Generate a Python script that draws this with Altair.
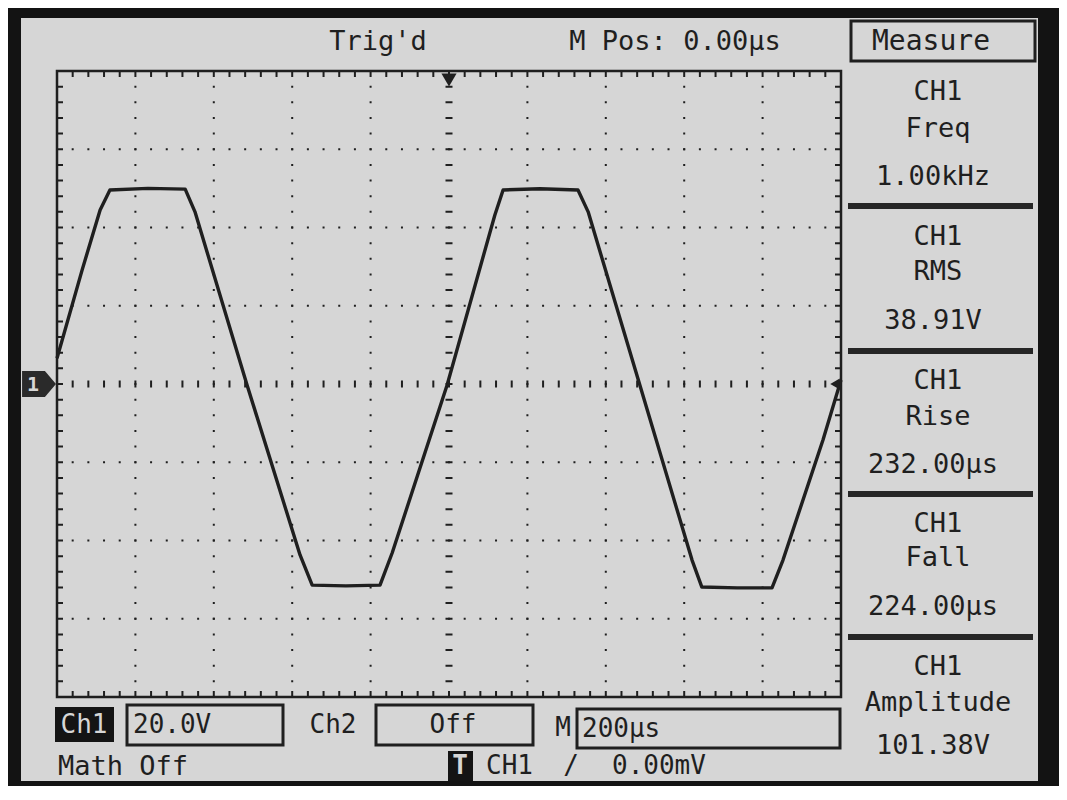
import altair as alt
import pandas as pd

# CH1 trace: time (µs, trigger at 0, 200 µs/div) and voltage (V, 20 V/div)
time_us = [-1000, -936, -890, -865, -768, -673, -648, -515, -380, -349, -263, -176,
           -145, -5, 117, 138, 232, 329, 355, 487, 620, 645, 735, 824, 852, 954, 1000]
volts = [6.6, 29.1, 44.5, 49.6, 50.0, 49.8, 44.0, -0.3, -43.7, -51.4, -51.6, -51.4,
         -43.2, -0.3, 43.2, 49.6, 49.9, 49.6, 44.0, -0.3, -45.0, -51.9, -52.1, -52.1,
         -45.0, -14.3, 1.0]

# graticule (major divisions, excluding the centre cross)
x_major = [-800, -600, -400, -200, 200, 400, 600, 800]
y_major = [-60, -40, -20, 20, 40, 60]

# screen texts
top_texts = ["Trig'd", "M Pos: 0.00µs"]
measure_title = "Measure"
panel_channel = ["CH1", "CH1", "CH1", "CH1", "CH1"]
panel_names = ["Freq", "RMS", "Rise", "Fall", "Amplitude"]
panel_values = ["1.00kHz", "38.91V", "232.00µs", "224.00µs", "101.38V"]
ch1_label, ch1_scale = "Ch1", "20.0V"
ch2_label, ch2_scale = "Ch2", "Off"
m_label, m_scale = "M", "200µs"
math_label = "Math Off"
trig_label, trig_src, trig_slope, trig_level = "T", "CH1", "/", "0.00mV"

# ---------------- layout ----------------
W, H = 784, 626          # plot (graticule) area
LEFT, TOP = 57, 71       # page position of the graticule
FONT = "DejaVu Sans Mono"
INK = "#1f1f1f"
SCREEN = "#d6d6d6"
BEZEL = "#131313"


def X(px):
    return px - LEFT


def Y(py):
    return py - TOP


one = alt.Data(values=[{"a": 1}])
xs = alt.Scale(domain=[-1000, 1000], nice=False, zero=False)
ys = alt.Scale(domain=[-80, 80], nice=False, zero=False)

layers = []


def rect(x1, x2, y1, y2, fill=None, stroke=None, sw=0):
    if fill is not None:
        m = alt.Chart(one).mark_rect(fill=fill, strokeWidth=0)
    else:
        m = alt.Chart(one).mark_rect(filled=False, stroke=stroke, strokeWidth=sw)
    return m.encode(x=alt.value(X(x1)), x2=alt.value(X(x2)),
                    y=alt.value(Y(y1)), y2=alt.value(Y(y2)))


def text(s, x, y, align="center", color=INK, size=26, weight="normal"):
    return alt.Chart(one).mark_text(
        text=s, align=align, baseline="middle", font=FONT, fontSize=size,
        color=color, fontWeight=weight
    ).encode(x=alt.value(X(x)), y=alt.value(Y(y)))


# LCD screen
layers.append(rect(21, 1038, 18, 781, fill=SCREEN))

# graticule dots
DASH_V = [2, 13.65]   # along vertical lines (626 / 40)
DASH_H = [2, 13.68]   # along horizontal lines (784 / 50)
layers.append(
    alt.Chart(pd.DataFrame({"t": x_major})).mark_rule(
        color=INK, strokeWidth=2, strokeDash=DASH_V, strokeDashOffset=1
    ).encode(x=alt.X("t:Q", scale=xs, axis=None))
)
layers.append(
    alt.Chart(pd.DataFrame({"v": y_major})).mark_rule(
        color=INK, strokeWidth=2, strokeDash=DASH_H, strokeDashOffset=1
    ).encode(y=alt.Y("v:Q", scale=ys, axis=None))
)
# centre cross with small ticks
layers.append(
    alt.Chart(pd.DataFrame({"v": [0]})).mark_rule(
        color=INK, strokeWidth=7, strokeDash=DASH_H, strokeDashOffset=1
    ).encode(y=alt.Y("v:Q", scale=ys, axis=None))
)
layers.append(
    alt.Chart(pd.DataFrame({"t": [0]})).mark_rule(
        color=INK, strokeWidth=7, strokeDash=DASH_V, strokeDashOffset=1
    ).encode(x=alt.X("t:Q", scale=xs, axis=None))
)
# border ticks pointing inward
layers.append(alt.Chart(one).mark_rule(color=INK, strokeWidth=6, strokeDash=DASH_H,
                                       strokeDashOffset=1).encode(y=alt.value(3)))
layers.append(alt.Chart(one).mark_rule(color=INK, strokeWidth=6, strokeDash=DASH_H,
                                       strokeDashOffset=1).encode(y=alt.value(H - 3)))
layers.append(alt.Chart(one).mark_rule(color=INK, strokeWidth=6, strokeDash=DASH_V,
                                       strokeDashOffset=1).encode(x=alt.value(3)))
layers.append(alt.Chart(one).mark_rule(color=INK, strokeWidth=6, strokeDash=DASH_V,
                                       strokeDashOffset=1).encode(x=alt.value(W - 3)))
# border
layers.append(rect(LEFT, LEFT + W, TOP, TOP + H, stroke=INK, sw=2.5))

# CH1 trace
trace = pd.DataFrame({"t": time_us, "v": volts})
layers.append(
    alt.Chart(trace).mark_line(color=INK, strokeWidth=3.4, strokeJoin="round").encode(
        x=alt.X("t:Q", scale=xs, axis=None),
        y=alt.Y("v:Q", scale=ys, axis=None),
    )
)

# trigger position marker (top centre)
layers.append(
    alt.Chart(one).mark_point(shape="triangle-down", filled=True, size=230,
                              color=INK, opacity=1).encode(
        x=alt.X(datum=0, scale=xs, axis=None), y=alt.value(Y(80)))
)
# channel 1 ground marker (left)
layers.append(
    alt.Chart(one).mark_point(
        shape="M -1 -0.76 L 0.35 -0.76 L 1 0 L 0.35 0.76 L -1 0.76 Z",
        filled=True, size=1150, color="#2a2a2a", opacity=1
    ).encode(x=alt.value(X(39)), y=alt.Y(datum=0, scale=ys, axis=None))
)
layers.append(text("1", 33, 385, color=SCREEN, size=20, weight="bold"))
# trigger level marker (right)
layers.append(
    alt.Chart(one).mark_point(shape="triangle-left", filled=True, size=120,
                              color=INK, opacity=1).encode(
        x=alt.value(X(835)), y=alt.Y(datum=0, scale=ys, axis=None))
)

# top status line
layers.append(text(top_texts[0], 378, 42, size=27))
layers.append(text(top_texts[1], 675, 42, size=27))

# measure panel
layers.append(rect(851, 1035, 21, 61, stroke=INK, sw=3))
layers.append(text(measure_title, 931, 42, size=28))
for yb in [206, 351, 494, 637]:
    layers.append(rect(848, 1033, yb - 3, yb + 3, fill="#262626"))
row_y = [(92, 129, 177), (237, 272, 321), (381, 417, 465), (524, 558, 607), (667, 703, 746)]
for (y1, y2, y3), c, n, v in zip(row_y, panel_channel, panel_names, panel_values):
    layers.append(text(c, 938, y1, size=27))
    layers.append(text(n, 938, y2, size=27))
    layers.append(text(v, 933, y3, size=27))

# bottom status lines
layers.append(rect(55, 114, 707, 742, fill="#141414"))
layers.append(text(ch1_label, 84, 725, color=SCREEN))
layers.append(rect(127, 283, 705, 745, stroke=INK, sw=3))
layers.append(text(ch1_scale, 133, 725, align="left"))
layers.append(text(ch2_label, 333, 725))
layers.append(rect(376, 533, 705, 745, stroke=INK, sw=3))
layers.append(text(ch2_scale, 453, 725))
layers.append(text(m_label, 563, 728))
layers.append(rect(577, 840, 709, 748, stroke=INK, sw=3))
layers.append(text(m_scale, 582, 729, align="left"))
layers.append(text(math_label, 58, 767, align="left", size=27))
layers.append(rect(448, 473, 751, 781, fill="#141414"))
layers.append(text(trig_label, 460, 766, color=SCREEN, weight="bold"))
layers.append(text(trig_src, 486, 766, align="left"))
layers.append(text(trig_slope, 571, 766))
layers.append(text(trig_level, 612, 766, align="left"))

chart = alt.layer(*layers).properties(
    width=W,
    height=H,
    autosize=alt.AutoSizeParams(type="none"),
    padding={"left": 49, "top": 63, "right": 218, "bottom": 89},
    background=BEZEL,
).configure_view(strokeWidth=0)

chart.save("out.html", embed_options={"renderer": "svg", "actions": False})
